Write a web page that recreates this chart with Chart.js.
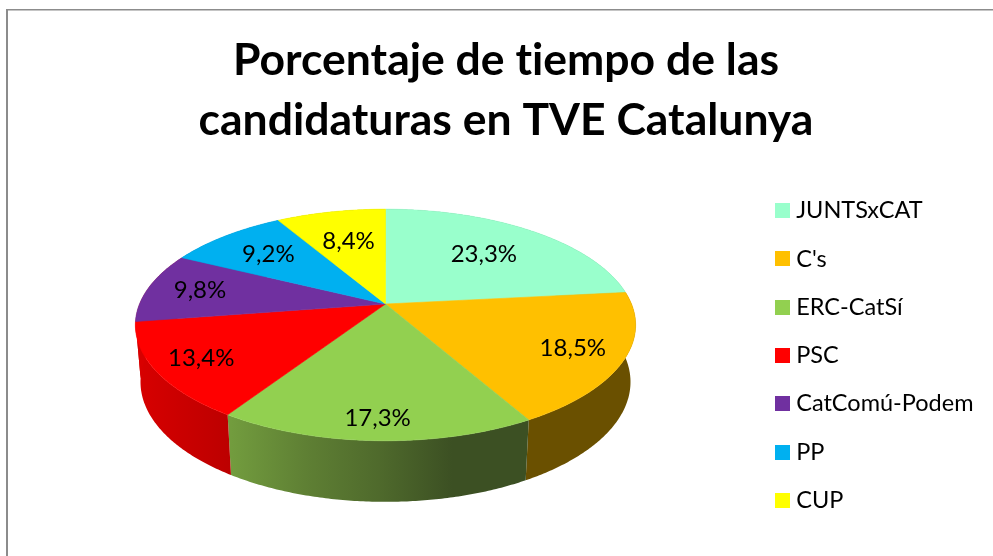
<!DOCTYPE html>
<html>
<head>
<meta charset="utf-8">
<style>
html,body{margin:0;padding:0;background:#fff;overflow:hidden;width:993px;height:556px}
canvas{position:absolute;left:0;top:0;font-variant-ligatures:none}
</style>
<script src="https://cdn.jsdelivr.net/npm/chart.js@4/dist/chart.umd.min.js"></script>
</head>
<body>
<canvas id="c" width="1035" height="556" style="width:1035px;height:556px"></canvas>
<script>
const titleLines = ['Porcentaje de tiempo de las', 'candidaturas en TVE Catalunya'];
const categories = ['JUNTSxCAT', "C's", 'ERC-CatSí', 'PSC', 'CatComú-Podem', 'PP', 'CUP'];
const shares = [23.3, 18.5, 17.3, 13.4, 9.8, 9.2, 8.4];
const faceColors = ['#99FFCC', '#FFC000', '#92D050', '#FF0000', '#7030A0', '#00B0F0', '#FFFF00'];
const wallColors = [
  ['#5c997a', '#5c997a'],
  ['#6a5000', '#6a5000'],
  ['#729c3e', '#5f8034', '#4f6a2c', '#3c5023', '#3c5023'],
  ['#d80000', '#bc0000'],
  ['#d80000', '#d80000'],
  ['#006a90', '#006a90'],
  ['#999900', '#999900']
];
const labelReach = [0.65, 0.80, 0.86, 0.82, 0.78, 0.71, 0.64];

const FONT = 'Lato, Carlito, sans-serif';
const LEGEND_SHIFT = 28.5;
// Perspective of the tilted disc
const CX = 385.5, CY = 304;
const TOP = {s: 246, b: 112, a: 0.181, y0: 0};
const BOT = {s: 241, b: 116, a: 0.18, y0: 56.4};

function project(p, angle, reach) {
  const u = Math.cos(angle) * reach, v = Math.sin(angle) * reach;
  const d = 1 - p.a * v;
  return [CX + p.s * u / d, CY + p.y0 + p.b * v / d];
}
function trace(ctx, p, a0, a1, first) {
  const n = Math.max(2, Math.ceil(Math.abs(a1 - a0) / 0.01));
  for (let i = 0; i <= n; i++) {
    const q = project(p, a0 + (a1 - a0) * i / n, 1);
    if (i === 0 && first) ctx.moveTo(q[0], q[1]); else ctx.lineTo(q[0], q[1]);
  }
}
function swatch(color) {
  const k = document.createElement('canvas');
  k.width = 15; k.height = 15;
  const g = k.getContext('2d');
  g.fillStyle = color; g.fillRect(0, 0, 15, 15);
  return k;
}

const disc3d = {
  id: 'disc3d',
  afterLayout(chart) {
    chart.legend.left -= LEGEND_SHIFT;
    chart.legend.right -= LEGEND_SHIFT;
  },
  beforeDraw(chart) {
    const ctx = chart.ctx;
    ctx.textRendering = 'optimizeSpeed';
    ctx.save();
    ctx.fillStyle = '#8c8c8c';
    ctx.fillRect(6, 9, 2, 547);
    ctx.fillRect(6, 9, 1006, 1.5);
    ctx.restore();
  },
  beforeDatasetsDraw(chart) {
    const ctx = chart.ctx;
    const arcs = chart.getDatasetMeta(0).data;
    ctx.save();
    // side wall
    arcs.forEach((arc, i) => {
      const q0 = project(BOT, arc.startAngle, 1), q1 = project(BOT, arc.endAngle, 1);
      const xa = Math.min(q0[0], q1[0]), xb = Math.max(q0[0], q1[0]);
      const g = ctx.createLinearGradient(i === 3 ? 135 : xa, 0, xb, 0);
      wallColors[i].forEach((c, k, list) => g.addColorStop(k / (list.length - 1), c));
      ctx.beginPath();
      trace(ctx, TOP, arc.startAngle, arc.endAngle, true);
      trace(ctx, BOT, arc.endAngle, arc.startAngle, false);
      ctx.closePath();
      ctx.fillStyle = g;
      ctx.fill();
    });
    // top face
    arcs.forEach((arc, i) => {
      ctx.beginPath();
      ctx.moveTo(CX, CY);
      trace(ctx, TOP, arc.startAngle, arc.endAngle, false);
      ctx.closePath();
      ctx.fillStyle = arc.options.backgroundColor;
      ctx.strokeStyle = arc.options.backgroundColor;
      ctx.lineWidth = 0.6;
      ctx.fill();
      ctx.stroke();
    });
    // value labels
    ctx.fillStyle = '#000';
    ctx.font = '24px ' + FONT;
    ctx.textAlign = 'center';
    ctx.textBaseline = 'middle';
    arcs.forEach((arc, i) => {
      const mid = (arc.startAngle + arc.endAngle) / 2;
      const q = project(TOP, mid, labelReach[i]);
      ctx.fillText(shares[i].toFixed(1).replace('.', ',') + '%', q[0], q[1]);
    });
    ctx.restore();
    return false;
  }
};

new Chart(document.getElementById('c'), {
  type: 'pie',
  data: {
    labels: categories,
    datasets: [{data: shares, backgroundColor: faceColors, borderWidth: 0}]
  },
  plugins: [disc3d],
  options: {
    responsive: false,
    animation: false,
    layout: {padding: {top: 31, right: 23, bottom: 0, left: 0}},
    plugins: {
      tooltip: {enabled: false},
      title: {
        display: true,
        text: titleLines,
        color: '#000',
        font: {family: FONT, size: 44.5, weight: 'bold', lineHeight: 1.35},
        padding: {top: 0, bottom: 4}
      },
      legend: {
        position: 'right',
        fullSize: false,
        labels: {
          color: '#000',
          font: {family: FONT, size: 23.5},
          padding: 24.8,
          usePointStyle: true,
          pointStyleWidth: 4.5,
          boxHeight: 15,
          generateLabels(chart) {
            return categories.map((name, i) => ({
              text: name,
              fillStyle: faceColors[i],
              strokeStyle: faceColors[i],
              lineWidth: 0,
              pointStyle: swatch(faceColors[i]),
              hidden: false,
              index: i
            }));
          }
        }
      }
    }
  }
});
</script>
</body>
</html>
